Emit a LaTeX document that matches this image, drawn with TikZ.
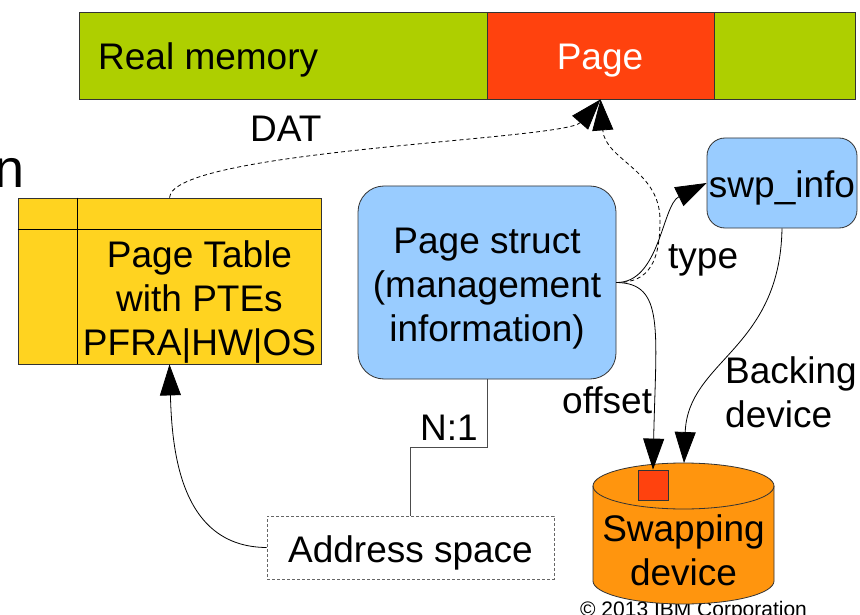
\documentclass[tikz,border=0pt]{standalone}
\usepackage{fontspec}
\setmainfont{Liberation Sans}
\usetikzlibrary{arrows.meta,calc}
\definecolor{memgreen}{HTML}{AECF00}
\definecolor{pagered}{HTML}{FF420E}
\definecolor{ptyellow}{HTML}{FFD320}
\definecolor{boxblue}{HTML}{99CCFF}
\definecolor{diskorange}{HTML}{FF950E}
\tikzset{
  lbl/.style={font=\fontsize{37}{44}\selectfont, inner sep=0pt},
  shapebox/.style={draw=black!80, line width=0.8pt, inner sep=0pt},
  arr/.style={-{Triangle[length=31pt,width=21pt]}, line width=0.8pt},
  dotline/.style={dash pattern=on 4pt off 3pt},
}
\begin{document}
\begin{tikzpicture}[x=1pt,y=-1pt]
\useasboundingbox (0,0) rectangle (860,615);

% footer line, partly hidden behind the disk
\node[anchor=base west, font=\fontsize{21}{21}\selectfont, inner sep=0pt] (copy) at (580,616) {© 2013 IBM Corporation};
% tail of the slide title
\node[anchor=base west, font=\fontsize{54}{54}\selectfont, inner sep=0pt] (title) at (-5.5,188) {n};

% real memory strip with one page frame
\node[shapebox, fill=memgreen, minimum width=776pt, minimum height=87pt] (mem) at (467,55.5) {};
\node[shapebox, fill=pagered, minimum width=227pt, minimum height=87pt] (page) at (600.5,55.5) {};
\node[lbl, anchor=base west] (memlbl) at (98,70) {Real memory};
\node[lbl, anchor=base, text=white] (pagelbl) at (600,70) {Page};

% page table
\node[shapebox, fill=ptyellow, minimum width=303pt, minimum height=166pt] (pt) at (169.5,281) {};
\draw[line width=0.8pt] ($(pt.north west)+(60,0)$) -- ($(pt.south west)+(60,0)$)
                        ($(pt.north west)+(0,32)$) -- ($(pt.north east)+(0,32)$);
\node[lbl, align=center, anchor=base] (ptlbl) at (199.5,355) {Page Table\\with PTEs\\PFRA|HW|OS};

% struct page
\node[shapebox, fill=boxblue, rounded corners=26pt, minimum width=258pt, minimum height=193pt] (ps) at (487,282.5) {};
\node[lbl, align=center, anchor=base] (pslbl) at (487,341) {Page struct\\(management\\information)};

% swap info
\node[shapebox, fill=boxblue, rounded corners=18pt, minimum width=150pt, minimum height=90pt] (sw) at (782,183) {};
\node[lbl, anchor=base] (swlbl) at (782,197) {swp\_info};

% address space
\node[draw=black!60, line width=0.7pt, dash pattern=on 3pt off 2pt, minimum width=287pt, minimum height=63pt, inner sep=0pt] (as) at (410.5,547.5) {};
\node[lbl, anchor=base] (aslbl) at (410.5,562) {Address space};

% swapping device (disk)
\draw[line width=0.8pt, draw=black!80, fill=diskorange]
  (593,486) -- (593,581) arc[start angle=180, end angle=360, x radius=90.5pt, y radius=23pt]
  -- (774,486) arc[start angle=0, end angle=180, x radius=90.5pt, y radius=23pt] -- cycle;
\draw[line width=0.8pt, draw=black!80]
  (593,486) arc[start angle=180, end angle=360, x radius=90.5pt, y radius=23pt];
\coordinate (disktop) at (684,463);
\node[shapebox, fill=pagered, minimum size=30pt] (slot) at (653,485) {};
\node[lbl, align=center, anchor=base] (sdlbl) at (683.5,585) {Swapping\\device};

% connectors
\draw[arr, dotline] (pt.north) .. controls (172,150) and (565,140) .. (page.south);
\draw[arr, dotline] (ps.east) .. controls (650,283) and (660,260) .. (660,220)
                              .. controls (660,170) and (605,160) .. (page.south);
\draw[arr] (ps.east) .. controls (660,283) and (662,205) .. (sw.west);
\draw[arr] (ps.east) .. controls (665,283) and (656,330) .. (slot.north);
\draw[arr] (sw.south) .. controls (780,350) and (688,360) .. (disktop);
\draw[arr] (as.west) .. controls (180,547) and (172,450) .. (pt.south);
\draw[line width=0.8pt, draw=black!70] (ps.south) -- ++(0,68) -| (as.north);

% connector labels
\node[lbl, anchor=base west] (dat) at (250,142) {DAT};
\node[lbl, anchor=base west] (type) at (668,268) {type};
\node[lbl, anchor=base west] (offset) at (562,413) {offset};
\node[lbl, anchor=base west, align=left] (backing) at (725,427) {Backing\\device};
\node[lbl, anchor=base west] (n1) at (420,440) {N:1};
\end{tikzpicture}
\end{document}
